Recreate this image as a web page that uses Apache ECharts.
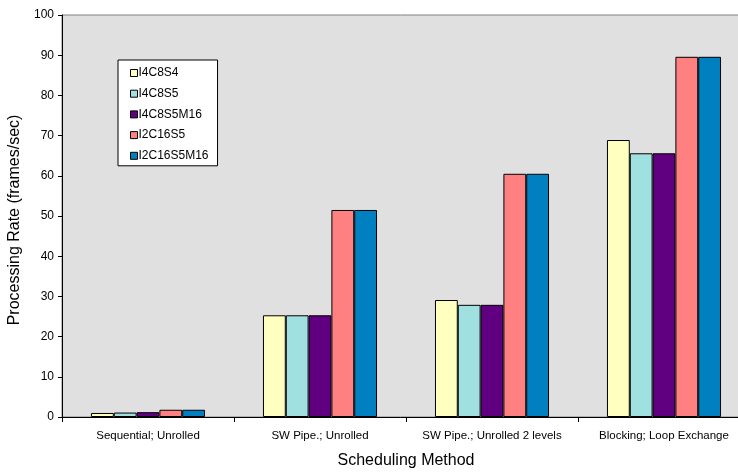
<!DOCTYPE html>
<html>
<head>
<meta charset="utf-8">
<script src="https://cdn.jsdelivr.net/npm/echarts@6/dist/echarts.min.js"></script>
<style>
  html, body { margin: 0; padding: 0; background: #fff; overflow: hidden; }
  #chart { width: 738px; height: 472px; }
</style>
</head>
<body>
<div id="chart"></div>
<script>
// Scheduling methods on the category axis
const categories = ['Sequential; Unrolled', 'SW Pipe.; Unrolled', 'SW Pipe.; Unrolled 2 levels', 'Blocking; Loop Exchange'];

// Processing rate (frames/sec) per configuration
const seriesNames = ['I4C8S4', 'I4C8S5', 'I4C8S5M16', 'I2C16S5', 'I2C16S5M16'];
const I4C8S4     = [1.0, 25.3, 29.1, 68.9];
const I4C8S5     = [1.1, 25.3, 27.9, 65.6];
const I4C8S5M16  = [1.2, 25.3, 27.9, 65.6];
const I2C16S5    = [1.8, 51.5, 60.5, 89.6];
const I2C16S5M16 = [1.8, 51.5, 60.5, 89.6];
const seriesData = [I4C8S4, I4C8S5, I4C8S5M16, I2C16S5, I2C16S5M16];
const seriesColors = ['#FFFFC0', '#A0E0E0', '#600080', '#FF8080', '#0080C0'];

// Value axis ticks
const yMin = 0, yMax = 100, yStep = 10;

const font = 'Liberation Sans, Arial, sans-serif';
const chart = echarts.init(document.getElementById('chart'), null, { renderer: 'canvas' });

chart.setOption({
  animation: false,
  backgroundColor: '#ffffff',
  grid: {
    left: 62, top: 15, width: 688, height: 402,
    outerBoundsMode: 'none',
    show: true,
    backgroundColor: '#E0E0E0',
    borderColor: '#808080',
    borderWidth: 1,
    containLabel: false
  },
  legend: {
    orient: 'vertical',
    left: 118, top: 60,
    backgroundColor: '#ffffff',
    borderColor: '#000000',
    borderWidth: 1,
    padding: [7, 9, 4, 12],
    itemWidth: 7, itemHeight: 7,
    itemGap: 8.7,
    icon: 'rect',
    itemStyle: { borderColor: '#000', borderWidth: 1 },
    textStyle: { fontFamily: font, fontSize: 12, color: '#000', padding: [0, 0, 0, -4] },
    data: seriesNames
  },
  xAxis: {
    type: 'category',
    data: categories,
    name: 'Scheduling Method',
    nameLocation: 'middle',
    nameGap: 36,
    nameTextStyle: { fontFamily: font, fontSize: 16, color: '#000' },
    axisLine: { lineStyle: { color: '#000', width: 1 } },
    axisTick: { show: true, length: 5, alignWithLabel: false, lineStyle: { color: '#000' } },
    axisLabel: { fontFamily: font, fontSize: 11.5, color: '#000', margin: 13, interval: 0 },
    splitLine: { show: false }
  },
  yAxis: {
    type: 'value',
    min: yMin, max: yMax, interval: yStep,
    name: 'Processing Rate (frames/sec)',
    nameLocation: 'middle',
    nameGap: 37,
    nameRotate: 90,
    nameTextStyle: { fontFamily: font, fontSize: 16, color: '#000', padding: [0, 8, 0, 0] },
    axisLine: { show: true, lineStyle: { color: '#000', width: 1 } },
    axisTick: { show: true, length: 4, lineStyle: { color: '#000' } },
    axisLabel: { fontFamily: font, fontSize: 12, color: '#000', margin: 8 },
    splitLine: { show: false }
  },
  series: seriesNames.map((name, i) => ({
    name: name,
    type: 'bar',
    data: seriesData[i],
    barGap: '0%',
    barCategoryGap: '33.7%',
    itemStyle: { color: seriesColors[i], borderColor: '#000', borderWidth: 1 }
  }))
});
</script>
</body>
</html>
